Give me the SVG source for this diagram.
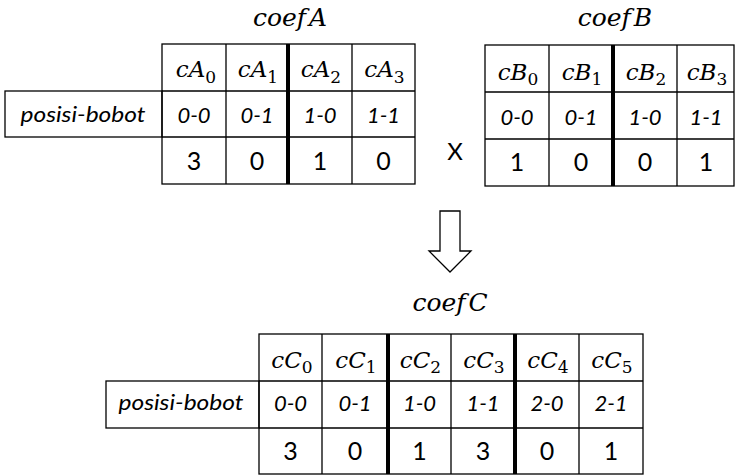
<svg xmlns="http://www.w3.org/2000/svg" width="736" height="475" viewBox="0 0 736 475">
<style>
.g{fill:none;stroke:#000;stroke-width:1.3}
.tk{stroke:#000;stroke-width:4}
.m{font-family:"DejaVu Serif","Liberation Serif",serif;font-style:italic;font-size:23px;fill:#000;text-anchor:middle}
.sub{font-style:normal;font-size:17px}
.t{font-family:"DejaVu Serif","Liberation Serif",serif;font-style:italic;font-size:25px;fill:#000;text-anchor:middle}
.i{font-family:Lato,"Open Sans",sans-serif;font-style:italic;font-size:22px;fill:#000;text-anchor:middle}
.n{font-family:Lato,"Open Sans",sans-serif;font-size:25px;fill:#000;text-anchor:middle}
.x{font-family:Lato,"Open Sans",sans-serif;font-size:24px;fill:#000;text-anchor:middle}
</style>
<rect width="736" height="475" fill="#fff"/>

<g id="tableA">
<text class="t" x="290" y="26">coef<tspan dx="3">A</tspan></text>
<rect class="g" x="5" y="91" width="157" height="46"/>
<rect class="g" x="162" y="44" width="253" height="140"/>
<path class="g" d="M162 91H415M162 137H415M226 44V184M352 44V184"/>
<line class="tk" x1="288" y1="44" x2="288" y2="184"/>
<text class="m" x="196" y="77">cA<tspan class="sub" dy="6">0</tspan></text>
<text class="m" x="258" y="77">cA<tspan class="sub" dy="6">1</tspan></text>
<text class="m" x="321" y="77">cA<tspan class="sub" dy="6">2</tspan></text>
<text class="m" x="384.5" y="77">cA<tspan class="sub" dy="6">3</tspan></text>
<text class="i" x="83" y="122" textLength="125" lengthAdjust="spacingAndGlyphs">posisi-bobot</text>
<text class="i" x="194" y="123">0-0</text>
<text class="i" x="257" y="123">0-1</text>
<text class="i" x="320" y="123">1-0</text>
<text class="i" x="383.5" y="123">1-1</text>
<text class="n" x="194" y="170">3</text>
<text class="n" x="257" y="170">0</text>
<text class="n" x="320" y="170">1</text>
<text class="n" x="383.5" y="170">0</text>
</g>

<text id="times" class="x" x="455" y="160">X</text>

<g id="tableB">
<text class="t" x="615" y="26">coef<tspan dx="3">B</tspan></text>
<rect class="g" x="485" y="45" width="249" height="141"/>
<path class="g" d="M485 92H734M485 139H734M549 45V186M677 45V186"/>
<line class="tk" x1="613" y1="45" x2="613" y2="186"/>
<text class="m" x="518" y="80">cB<tspan class="sub" dy="5">0</tspan></text>
<text class="m" x="582" y="80">cB<tspan class="sub" dy="5">1</tspan></text>
<text class="m" x="646" y="80">cB<tspan class="sub" dy="5">2</tspan></text>
<text class="m" x="707" y="80">cB<tspan class="sub" dy="5">3</tspan></text>
<text class="i" x="517" y="125">0-0</text>
<text class="i" x="581" y="125">0-1</text>
<text class="i" x="645" y="125">1-0</text>
<text class="i" x="706" y="125">1-1</text>
<text class="n" x="517" y="171">1</text>
<text class="n" x="581" y="171">0</text>
<text class="n" x="645" y="171">0</text>
<text class="n" x="706" y="171">1</text>
</g>

<g id="connectors">
<polygon class="g" points="440,211 460,211 460,251 471,251 450,272 429,251 440,251"/>
</g>

<g id="tableC">
<text class="t" x="450" y="311">coef<tspan dx="3">C</tspan></text>
<rect class="g" x="106" y="381" width="153" height="47"/>
<rect class="g" x="259" y="334" width="384" height="140"/>
<path class="g" d="M259 381H643M259 428H643M322 334V474M451 334V474M579 334V474"/>
<line class="tk" x1="388" y1="334" x2="388" y2="474"/>
<line class="tk" x1="515" y1="334" x2="515" y2="474"/>
<text class="m" x="292" y="368">cC<tspan class="sub" dy="5">0</tspan></text>
<text class="m" x="356" y="368">cC<tspan class="sub" dy="5">1</tspan></text>
<text class="m" x="420.5" y="368">cC<tspan class="sub" dy="5">2</tspan></text>
<text class="m" x="484" y="368">cC<tspan class="sub" dy="5">3</tspan></text>
<text class="m" x="548" y="368">cC<tspan class="sub" dy="5">4</tspan></text>
<text class="m" x="612" y="368">cC<tspan class="sub" dy="5">5</tspan></text>
<text class="i" x="181" y="410" textLength="125" lengthAdjust="spacingAndGlyphs">posisi-bobot</text>
<text class="i" x="290.5" y="411">0-0</text>
<text class="i" x="355" y="411">0-1</text>
<text class="i" x="419.5" y="411">1-0</text>
<text class="i" x="483" y="411">1-1</text>
<text class="i" x="547" y="411">2-0</text>
<text class="i" x="611" y="411">2-1</text>
<text class="n" x="290.5" y="460">3</text>
<text class="n" x="355" y="460">0</text>
<text class="n" x="419.5" y="460">1</text>
<text class="n" x="483" y="460">3</text>
<text class="n" x="547" y="460">0</text>
<text class="n" x="611" y="460">1</text>
</g>
</svg>
